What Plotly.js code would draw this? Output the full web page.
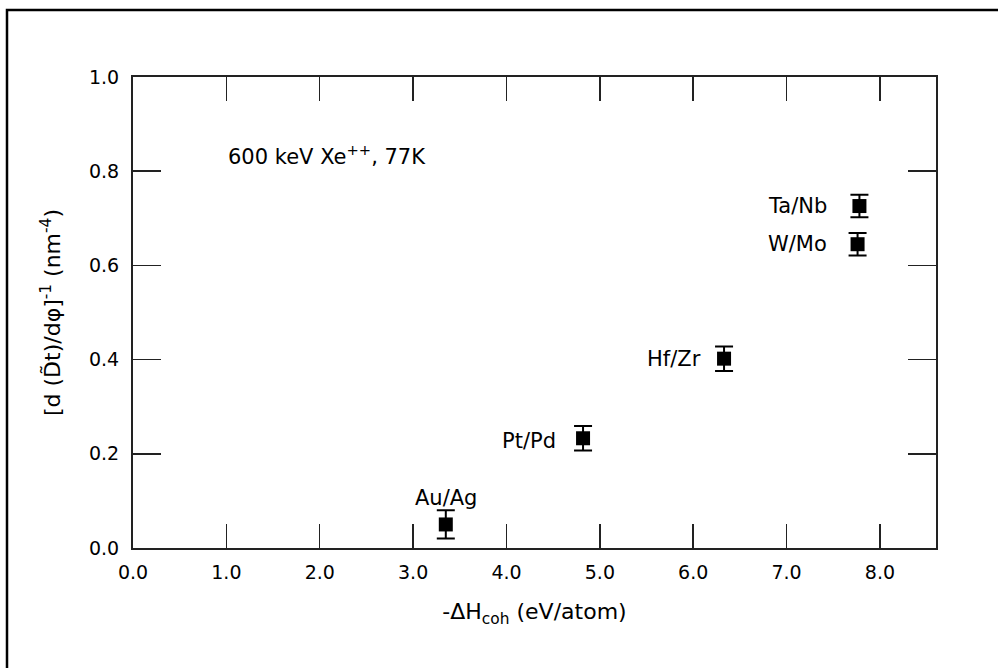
<!DOCTYPE html>
<html>
<head>
<meta charset="utf-8">
<script src="https://cdn.plot.ly/plotly-3.0.1.min.js"></script>
<style>
  html, body { margin: 0; padding: 0; background: #fff; }
  #chart { width: 998px; height: 668px; }
</style>
</head>
<body>
<div id="chart"></div>
<script>
// ---- data ----
const pairLabels = ["Au/Ag", "Pt/Pd", "Hf/Zr", "Ta/Nb", "W/Mo"];
const cohesiveEnergy = [3.35, 4.82, 6.33, 7.78, 7.76];          // -ΔH_coh (eV/atom)
const inverseRate = [0.050, 0.233, 0.402, 0.726, 0.645];        // [d(Dt)/dφ]^-1 (nm^-4)
const inverseRateErr = [0.030, 0.026, 0.026, 0.024, 0.024];
const xTickVals = [0, 1, 2, 3, 4, 5, 6, 7, 8];
const xTickText = ["0.0", "1.0", "2.0", "3.0", "4.0", "5.0", "6.0", "7.0", "8.0"];
const yTickVals = [0, 0.2, 0.4, 0.6, 0.8, 1.0];
const yTickText = ["0.0", "0.2", "0.4", "0.6", "0.8", "1.0"];
const conditionText = "600 keV Xe<sup>++</sup>, 77K";

// label placement offsets (pixels) relative to each point
const labelOffsets = {
  "Au/Ag": {xshift: 0, yshift: 26, xanchor: "center"},
  "Pt/Pd": {xshift: -25, yshift: -3, xanchor: "right"},
  "Hf/Zr": {xshift: -21, yshift: 0, xanchor: "right"},
  "Ta/Nb": {xshift: -30, yshift: 0, xanchor: "right"},
  "W/Mo":  {xshift: -29, yshift: 0, xanchor: "right"}
};

const FONT = "DejaVu Sans, Arial, sans-serif";
const INK = "#000000";

const L = 133, R = 62, T = 77, B = 120, W = 998, H = 668;
const pw = W - L - R, ph = H - T - B;

const trace = {
  type: "scatter",
  mode: "markers",
  x: cohesiveEnergy,
  y: inverseRate,
  marker: {symbol: "square", size: 14, color: "#000000"},
  error_y: {type: "data", array: inverseRateErr, visible: true,
            color: "#000000", thickness: 2, width: 9},
  hoverinfo: "x+y",
  showlegend: false
};

const annotations = pairLabels.map((lab, i) => Object.assign({
  x: cohesiveEnergy[i], y: inverseRate[i], xref: "x", yref: "y",
  text: lab, showarrow: false, yanchor: "middle",
  font: {family: FONT, size: 21, color: INK}
}, labelOffsets[lab]));

annotations.push({
  x: (226 - L) / pw, y: (H - B - 155) / ph, xref: "paper", yref: "paper",
  xanchor: "left", yanchor: "middle",
  text: conditionText, showarrow: false,
  font: {family: FONT, size: 21, color: INK}
});

const layout = {
  width: W, height: H,
  margin: {l: L, r: R, t: T, b: B, pad: 0},
  paper_bgcolor: "#ffffff",
  plot_bgcolor: "#ffffff",
  font: {family: FONT, size: 19, color: INK},
  xaxis: {
    range: [0, 8.6],
    tickvals: xTickVals, ticktext: xTickText,
    ticks: "inside", ticklen: 24, tickwidth: 1.5, tickcolor: "#222",
    showline: true, linecolor: "#222", linewidth: 2, mirror: "ticks",
    showgrid: false, zeroline: false,
    ticklabelstandoff: 6,
    tickfont: {family: FONT, size: 19, color: INK},
    title: {text: "-ΔH<sub>coh</sub> (eV/atom)", standoff: 22,
            font: {family: FONT, size: 22, color: INK}}
  },
  yaxis: {
    range: [0, 1.0],
    tickvals: yTickVals, ticktext: yTickText,
    ticks: "inside", ticklen: 28, tickwidth: 1.5, tickcolor: "#222",
    showline: true, linecolor: "#222", linewidth: 2, mirror: "ticks",
    showgrid: false, zeroline: false,
    ticklabelstandoff: 8,
    tickfont: {family: FONT, size: 19, color: INK},
    title: {text: "[d (D̃t)/dφ]<sup>-1</sup> (nm<sup>-4</sup>)", standoff: 22,
            font: {family: FONT, size: 22, color: INK}}
  },
  annotations: annotations,
  shapes: [{
    type: "rect", xref: "paper", yref: "paper",
    x0: (7 - L) / pw, x1: (1020 - L) / pw,
    y0: (H - B - 690) / ph, y1: (H - B - 10) / ph,
    line: {color: "#000000", width: 2.5}, fillcolor: "rgba(0,0,0,0)"
  }]
};

Plotly.newPlot("chart", [trace], layout, {displayModeBar: false, staticPlot: true});
</script>
</body>
</html>
